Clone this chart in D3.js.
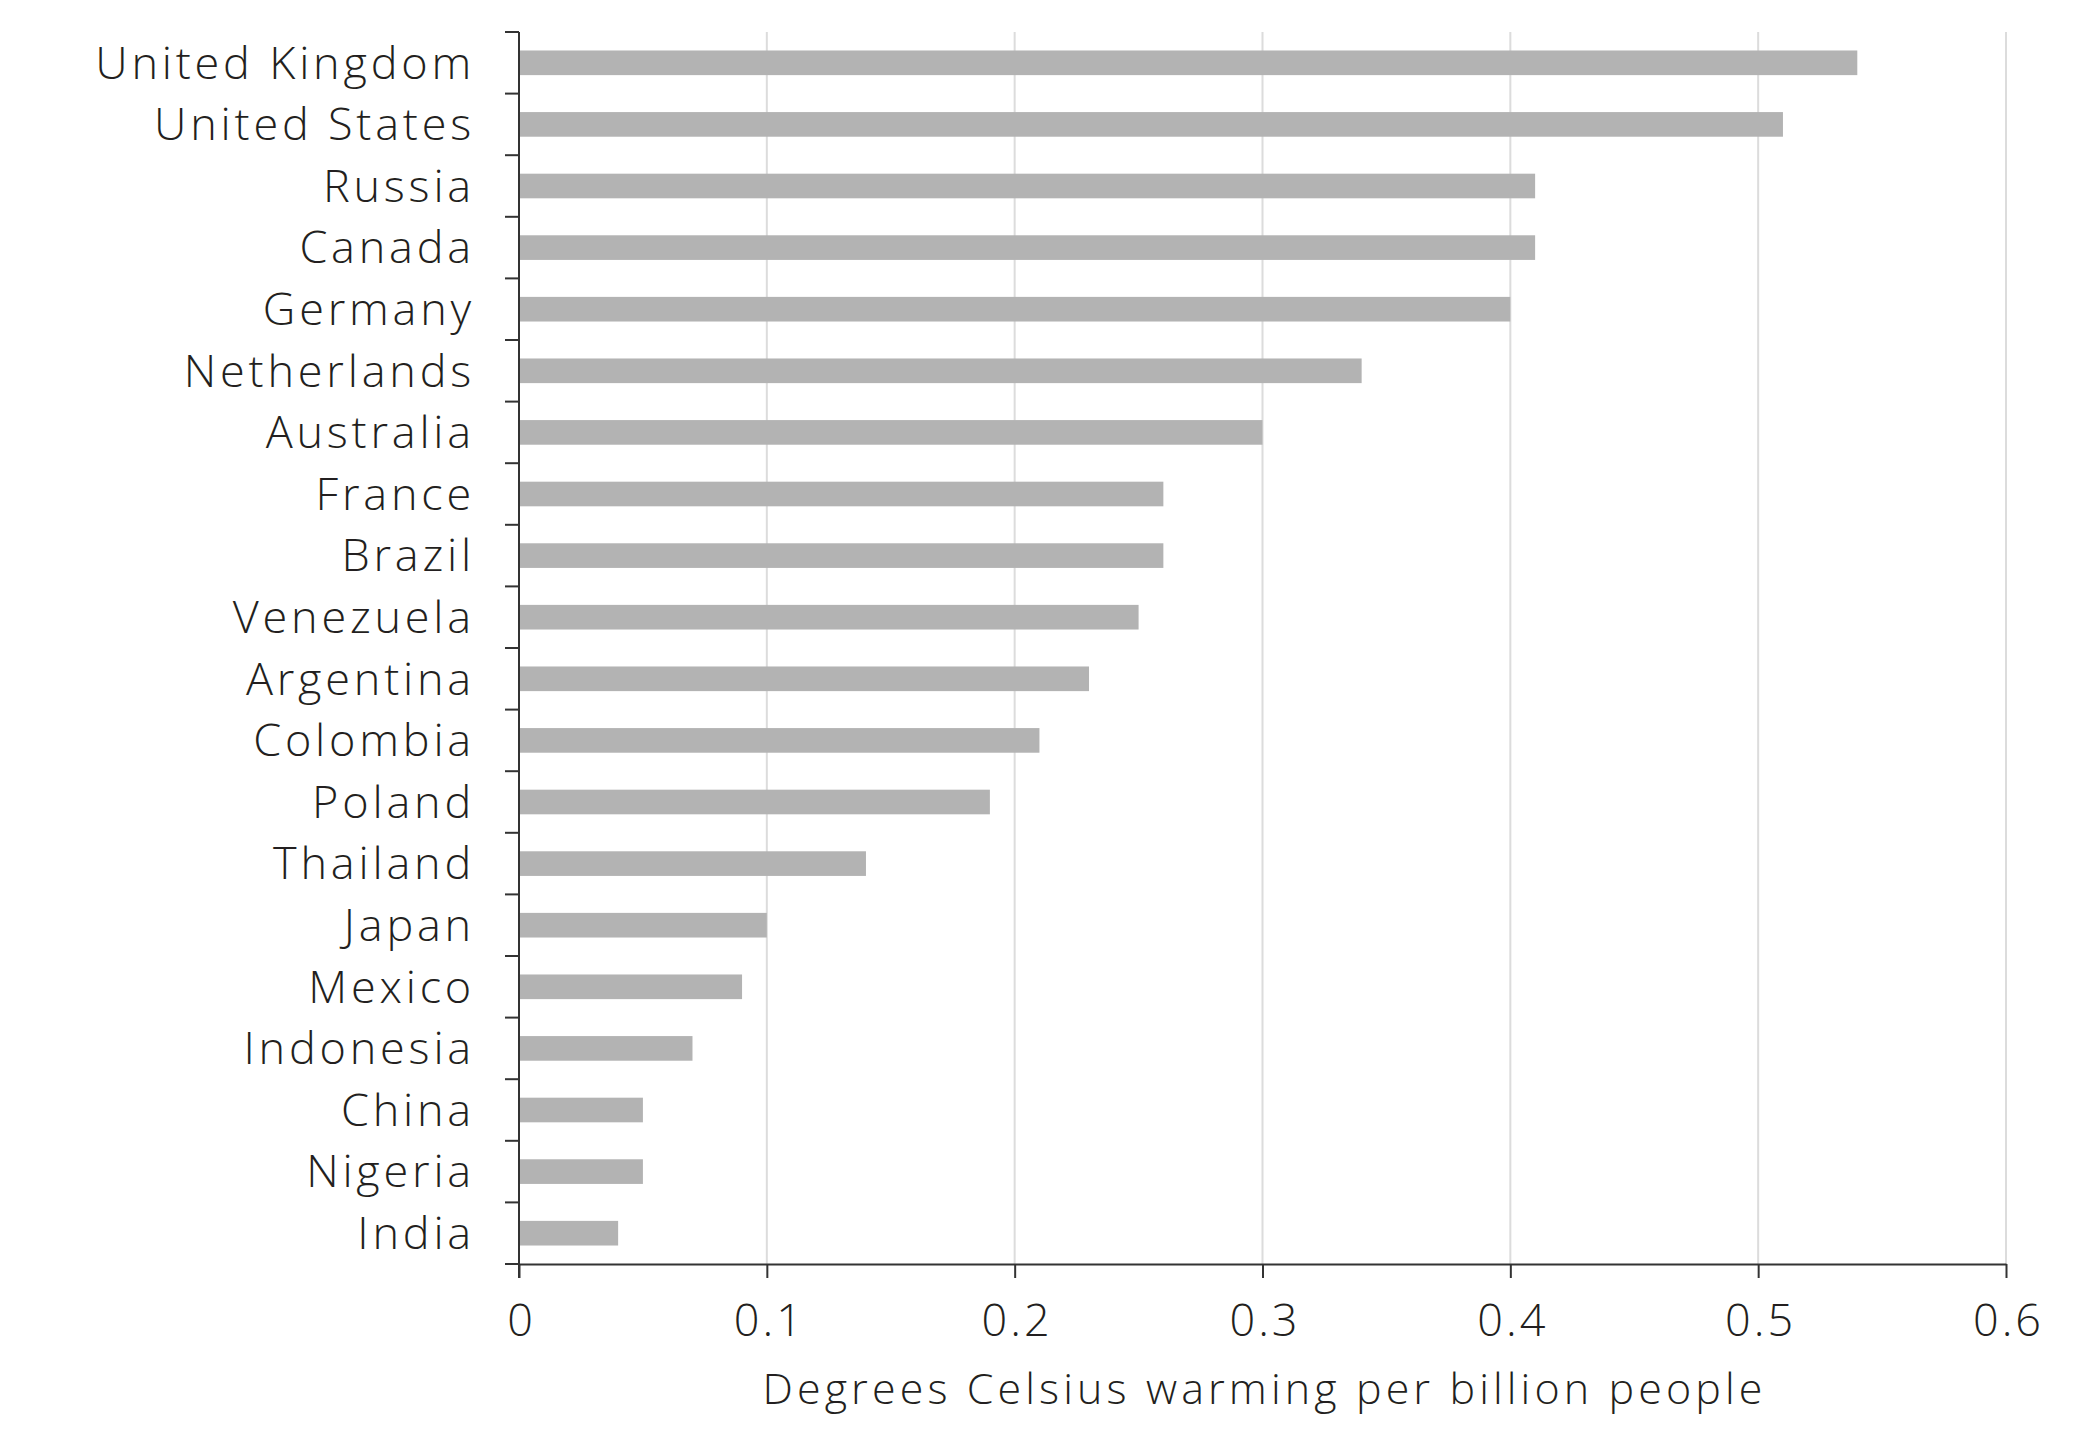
<!DOCTYPE html>
<html>
<head>
<meta charset="utf-8">
<script src="https://cdn.jsdelivr.net/npm/d3@7"></script>
<style>
	body { margin: 0; background: #fff; }
	svg text { font-family: 'Open Sans', Lato, sans-serif; font-weight: 300; fill: #231f20; }
</style>
</head>
<body>
<svg id="chart"></svg>
<script>
const countries = [ 'United Kingdom', 'United States', 'Russia', 'Canada', 'Germany', 'Netherlands', 'Australia', 'France', 'Brazil', 'Venezuela', 'Argentina', 'Colombia', 'Poland', 'Thailand', 'Japan', 'Mexico', 'Indonesia', 'China', 'Nigeria', 'India' ];
const warming = [ 0.54, 0.51, 0.41, 0.41, 0.40, 0.34, 0.30, 0.26, 0.26, 0.25, 0.23, 0.21, 0.19, 0.14, 0.10, 0.09, 0.07, 0.05, 0.05, 0.04 ];
const xTicks = [ 0, 0.1, 0.2, 0.3, 0.4, 0.5, 0.6 ];
const xTitle = 'Degrees Celsius warming per billion people';

const width = 2075;
const height = 1452;
const margin = { top: 32, right: 69, bottom: 188, left: 519 };

const svg = d3.select('svg#chart')
	.attr('width', width)
	.attr('height', height);

const data = countries.map((c, i) => ({ country: c, value: warming[i] }));

const x = d3.scaleLinear([ 0, 0.6 ], [ margin.left, width - margin.right ]);
const y = d3.scaleBand(countries, [ margin.top, height - margin.bottom ])
	.paddingInner(0.6)
	.paddingOuter(0.3);

// step boundaries for the y ticks
const step = y.step();
const boundaries = d3.range(countries.length + 1).map(i => margin.top + i * step);

// gridlines
svg.append('g')
	.selectAll('line')
	.data(xTicks.slice(1))
	.join('line')
	.attr('x1', d => x(d))
	.attr('x2', d => x(d))
	.attr('y1', margin.top)
	.attr('y2', height - margin.bottom)
	.attr('stroke', '#dcdcdc')
	.attr('stroke-width', 2);

// bars
svg.append('g')
	.selectAll('rect')
	.data(data)
	.join('rect')
	.attr('x', x(0))
	.attr('y', d => y(d.country))
	.attr('width', d => x(d.value) - x(0))
	.attr('height', y.bandwidth())
	.attr('fill', '#b3b3b3');

// y axis line + ticks at band boundaries
const yAxis = svg.append('g').attr('stroke', '#333').attr('stroke-width', 2);
yAxis.append('line')
	.attr('x1', x(0)).attr('x2', x(0))
	.attr('y1', margin.top).attr('y2', height - margin.bottom + 14);
yAxis.selectAll('line.tick')
	.data(boundaries)
	.join('line')
	.attr('class', 'tick')
	.attr('x1', x(0) - 14).attr('x2', x(0))
	.attr('y1', d => d).attr('y2', d => d);

// country labels
svg.append('g')
	.selectAll('text')
	.data(data)
	.join('text')
	.attr('x', x(0) - 44)
	.attr('y', d => y(d.country) + y.bandwidth() / 2)
	.attr('dy', '0.35em')
	.attr('text-anchor', 'end')
	.attr('font-size', 45)
	.attr('letter-spacing', 3.8)
	.text(d => d.country);

// x axis
const xAxis = d3.axisBottom(x)
	.tickValues(xTicks)
	.tickFormat(d3.format('~g'))
	.tickSize(14)
	.tickSizeOuter(0)
	.tickPadding(26);

const gx = svg.append('g')
	.attr('transform', `translate(0, ${height - margin.bottom})`)
	.call(xAxis);
gx.select('.domain').attr('stroke', '#333').attr('stroke-width', 2);
gx.selectAll('.tick line').attr('stroke', '#333').attr('stroke-width', 2);
gx.selectAll('.tick text')
	.attr('font-size', 45)
	.attr('letter-spacing', 3)
	.attr('dx', 2)
	.style('font-family', "'Open Sans', sans-serif")
	.style('font-weight', 300)
	.attr('fill', '#231f20');

svg.append('text')
	.attr('x', (x(0) + x(0.6)) / 2 + 2)
	.attr('y', height - 48)
	.attr('text-anchor', 'middle')
	.attr('font-size', 43)
	.attr('letter-spacing', 4.1)
	.text(xTitle);
</script>
</body>
</html>
